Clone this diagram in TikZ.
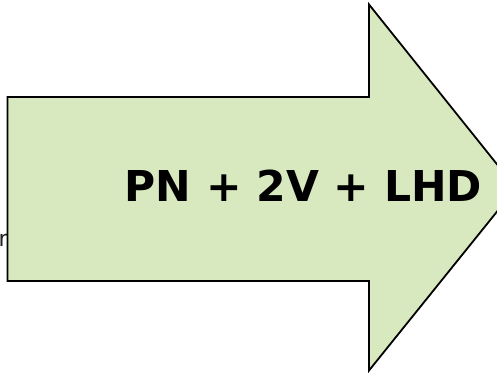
\documentclass[tikz,border=0pt]{standalone}
\usepackage{fontspec}
\setmainfont{DejaVu Sans}
\definecolor{arrowfill}{HTML}{D9E9BF}
\definecolor{fragtext}{HTML}{222222}
\tikzset{
  bigarrow/.style={draw=black, line width=1.8pt, fill=arrowfill, line join=miter},
  arrowlabel/.style={font=\fontsize{42.5}{50}\selectfont\bfseries, text=black, inner sep=0pt},
  fragment/.style={font=\fontsize{22}{26}\selectfont, text=fragtext, inner sep=0pt}
}
\begin{document}
\begin{tikzpicture}[x=1pt,y=1pt]
  \useasboundingbox (0,0) rectangle (497,372);
  \clip (0,0) rectangle (497,372);
  \fill[white] (0,0) rectangle (497,372);
  % partly hidden text fragment at the left edge
  \node[fragment, anchor=base west] (frag) at (-1.5,125) {r};
  % the big arrow
  \draw[bigarrow] (7.5,275) -- (369,275) -- (369,367.5) -- (516,184)
        -- (369,1.5) -- (369,91) -- (7.5,91) -- cycle;
  \node[arrowlabel, anchor=base] (label) at (303.5,170.3) {PN + 2V + LHD};
\end{tikzpicture}
\end{document}
